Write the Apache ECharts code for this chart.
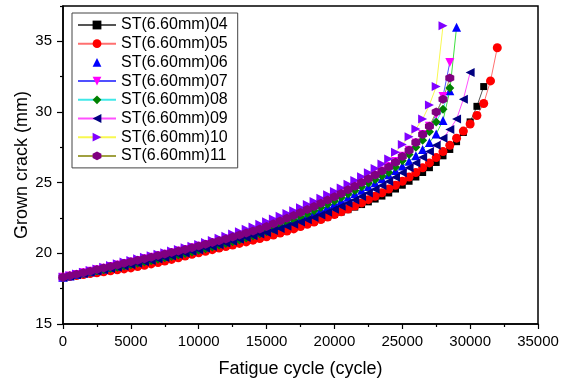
<!DOCTYPE html>
<html>
<head>
  <meta charset="utf-8">
  <title>Grown crack vs fatigue cycle</title>
  <script src="https://cdn.jsdelivr.net/npm/echarts/dist/echarts.min.js"></script>
  <style>
    html, body { margin: 0; padding: 0; background: #fff; }
    #chart { width: 572px; height: 379px; }
  </style>
</head>
<body>
  <div id="chart"></div>
  <script>
    // cycle count of each reading
    const cycles = [0, 500, 1000, 1500, 2000, 2500, 3000, 3500, 4000, 4500,
      5000, 5500, 6000, 6500, 7000, 7500, 8000, 8500, 9000, 9500,
      10000, 10500, 11000, 11500, 12000, 12500, 13000, 13500, 14000, 14500,
      15000, 15500, 16000, 16500, 17000, 17500, 18000, 18500, 19000, 19500,
      20000, 20500, 21000, 21500, 22000, 22500, 23000, 23500, 24000, 24500,
      25000, 25500, 26000, 26500, 27000, 27500, 28000, 28500, 29000, 29500,
      30000, 30500, 31000, 31500, 32000];

    // grown crack length (mm) per specimen
    const st04 = [18.30, 18.38, 18.46, 18.54, 18.62, 18.70, 18.78, 18.86, 18.94, 19.02,
      19.12, 19.22, 19.32, 19.42, 19.52, 19.62, 19.72, 19.82, 19.92, 20.02,
      20.12, 20.23, 20.34, 20.45, 20.56, 20.67, 20.79, 20.91, 21.03, 21.14,
      21.25, 21.38, 21.52, 21.66, 21.80, 21.95, 22.10, 22.26, 22.42, 22.58,
      22.75, 22.92, 23.09, 23.27, 23.45, 23.64, 23.84, 24.05, 24.27, 24.55,
      24.82, 25.10, 25.40, 25.72, 26.06, 26.43, 26.90, 27.35, 27.90, 28.55,
      29.30, 30.40, 31.80];
    const st05 = [18.30, 18.36, 18.43, 18.50, 18.57, 18.63, 18.70, 18.76, 18.83, 18.90,
      18.97, 19.06, 19.15, 19.25, 19.35, 19.46, 19.57, 19.69, 19.81, 19.93,
      20.04, 20.15, 20.26, 20.37, 20.48, 20.59, 20.70, 20.81, 20.93, 21.05,
      21.17, 21.30, 21.44, 21.58, 21.73, 21.89, 22.05, 22.22, 22.39, 22.57,
      22.75, 22.94, 23.14, 23.35, 23.57, 23.80, 24.04, 24.29, 24.55, 24.82,
      25.10, 25.40, 25.72, 26.05, 26.40, 26.78, 27.20, 27.65, 28.15, 28.65,
      29.15, 29.75, 30.60, 32.20, 34.55];
    const st06 = [18.30, 18.40, 18.50, 18.60, 18.70, 18.80, 18.90, 19.00, 19.10, 19.20,
      19.30, 19.40, 19.50, 19.60, 19.70, 19.80, 19.90, 20.00, 20.11, 20.22,
      20.33, 20.45, 20.57, 20.69, 20.82, 20.95, 21.08, 21.22, 21.36, 21.50,
      21.65, 21.81, 21.98, 22.15, 22.33, 22.51, 22.70, 22.90, 23.10, 23.31,
      23.52, 23.74, 23.97, 24.21, 24.46, 24.72, 24.99, 25.27, 25.56, 25.86,
      26.18, 26.52, 26.90, 27.35, 27.85, 28.45, 29.40, 31.50, 36.00];
    const st07 = [18.30, 18.40, 18.51, 18.62, 18.73, 18.84, 18.95, 19.06, 19.17, 19.28,
      19.39, 19.50, 19.61, 19.72, 19.83, 19.94, 20.05, 20.16, 20.27, 20.39,
      20.51, 20.63, 20.75, 20.88, 21.01, 21.14, 21.28, 21.42, 21.57, 21.72,
      21.88, 22.06, 22.25, 22.44, 22.64, 22.85, 23.06, 23.28, 23.50, 23.73,
      23.96, 24.20, 24.45, 24.71, 24.98, 25.25, 25.53, 25.82, 26.14, 26.50,
      26.87, 27.30, 27.80, 28.40, 29.00, 29.80, 31.10, 33.50];
    const st08 = [18.30, 18.39, 18.48, 18.57, 18.66, 18.75, 18.84, 18.93, 19.02, 19.11,
      19.20, 19.29, 19.38, 19.48, 19.58, 19.68, 19.78, 19.88, 19.99, 20.10,
      20.21, 20.33, 20.45, 20.57, 20.69, 20.82, 20.95, 21.08, 21.22, 21.36,
      21.53, 21.72, 21.93, 22.15, 22.36, 22.57, 22.79, 23.01, 23.24, 23.47,
      23.71, 23.95, 24.20, 24.45, 24.71, 24.97, 25.23, 25.47, 25.72, 26.10,
      26.55, 27.00, 27.50, 28.00, 28.60, 29.30, 30.20, 31.70];
    const st09 = [18.30, 18.39, 18.48, 18.57, 18.66, 18.75, 18.84, 18.93, 19.02, 19.11,
      19.20, 19.30, 19.40, 19.50, 19.60, 19.70, 19.81, 19.92, 20.03, 20.14,
      20.25, 20.37, 20.49, 20.61, 20.73, 20.86, 20.99, 21.12, 21.25, 21.36,
      21.48, 21.62, 21.76, 21.91, 22.06, 22.21, 22.37, 22.53, 22.72, 22.91,
      23.12, 23.33, 23.55, 23.78, 24.02, 24.27, 24.53, 24.80, 25.08, 25.38,
      25.70, 26.05, 26.40, 26.80, 27.20, 27.65, 28.15, 28.76, 29.50, 30.90,
      32.80];
    const st10 = [18.30, 18.42, 18.54, 18.66, 18.78, 18.90, 19.02, 19.14, 19.26, 19.38,
      19.50, 19.61, 19.72, 19.83, 19.94, 20.05, 20.16, 20.27, 20.39, 20.51,
      20.63, 20.77, 20.91, 21.06, 21.21, 21.37, 21.53, 21.70, 21.87, 22.05,
      22.24, 22.43, 22.62, 22.82, 23.02, 23.23, 23.45, 23.67, 23.90, 24.14,
      24.38, 24.63, 24.89, 25.15, 25.42, 25.70, 26.00, 26.32, 26.68, 27.15,
      27.70, 28.24, 28.80, 29.50, 30.50, 31.80, 36.10];
    const st11 = [18.30, 18.41, 18.52, 18.63, 18.74, 18.85, 18.96, 19.07, 19.18, 19.29,
      19.40, 19.51, 19.62, 19.73, 19.84, 19.95, 20.06, 20.17, 20.28, 20.40,
      20.52, 20.64, 20.76, 20.89, 21.02, 21.15, 21.29, 21.43, 21.58, 21.73,
      21.90, 22.09, 22.28, 22.48, 22.68, 22.89, 23.10, 23.32, 23.54, 23.77,
      24.00, 24.24, 24.49, 24.75, 25.02, 25.28, 25.55, 25.82, 26.10, 26.45,
      26.85, 27.30, 27.85, 28.40, 29.00, 30.00, 30.90, 32.40];

    const crack = [st04, st05, st06, st07, st08, st09, st10, st11];
    const seriesNames = ['ST(6.60mm)04', 'ST(6.60mm)05', 'ST(6.60mm)06', 'ST(6.60mm)07',
      'ST(6.60mm)08', 'ST(6.60mm)09', 'ST(6.60mm)10', 'ST(6.60mm)11'];
    const markerColors = ['#000000', '#ff0000', '#0000ff', '#ff00ff', '#008000', '#000080', '#8000ff', '#800080'];
    const lineColors = ['#555555', '#ff7070', '#40e040', '#5050ff', '#40e8e8', '#ff50ff', '#f8f850', '#a0a040'];
    const markers = ['rect', 'circle', 'triangle',
      'path://M0,0L10,0L5,9Z',
      'diamond',
      'path://M9,0L9,10L0,5Z',
      'path://M0,0L0,10L9,5Z',
      'path://M5,0L9.33,2.5L9.33,7.5L5,10L0.67,7.5L0.67,2.5Z'];
    const markerSizes = [7, 9, 9, 9, 9, 9, 9, 9];
    const yMajor = [15, 20, 25, 30, 35];
    const yMinor = [17.5, 22.5, 27.5, 32.5, 37.5];

    const font = 'Liberation Sans, Arial, sans-serif';
    const chart = echarts.init(document.getElementById('chart'));

    function pairs(ys) {
      return ys.map((y, i) => [cycles[i], y]);
    }

    const option = {
      animation: false,
      grid: {
        left: 63, right: 34, top: 6, bottom: 55, outerBoundsMode: 'none',
        show: true, borderColor: '#000', borderWidth: 1.5
      },
      legend: {
        orient: 'vertical', left: 72, top: 13,
        padding: [4, 10, 4, 5],
        itemWidth: 38, itemHeight: 11, itemGap: 2.7,
        borderColor: '#444', borderWidth: 1, backgroundColor: '#fff',
        textStyle: { fontFamily: font, fontSize: 16, color: '#000', lineHeight: 16 },
        data: seriesNames.map((n, i) => i === 2 ? { name: n, lineStyle: { opacity: 0 } } : n)
      },
      xAxis: {
        type: 'value', min: 0, max: 35000, interval: 5000,
        name: 'Fatigue cycle (cycle)', nameLocation: 'middle', nameGap: 36,
        nameTextStyle: { fontFamily: font, fontSize: 18, color: '#000' },
        axisLine: { lineStyle: { color: '#000', width: 1.5 } },
        axisTick: { length: 5, lineStyle: { color: '#000', width: 1.2 } },
        minorTick: { show: true, splitNumber: 2, length: 3, lineStyle: { color: '#000', width: 1.2 } },
        splitLine: { show: false },
        axisLabel: { fontFamily: font, fontSize: 15, color: '#000', margin: 10, formatter: v => String(v) }
      },
      yAxis: [{
        type: 'value', min: 15, max: 37.5, interval: 5,
        name: 'Grown crack (mm)', nameLocation: 'middle', nameGap: 32, nameMoveOverlap: false,
        nameTextStyle: { fontFamily: font, fontSize: 18, color: '#000' },
        axisLine: { show: true, lineStyle: { color: '#000', width: 1.5 } },
        axisTick: { show: true, length: 6, customValues: yMajor, lineStyle: { color: '#000', width: 1.2 } },
        splitLine: { show: false },
        axisLabel: { fontFamily: font, fontSize: 15, color: '#000', margin: 11, customValues: yMajor }
      }, {
        type: 'value', min: 15, max: 37.5, interval: 2.5, position: 'left',
        axisLine: { show: false },
        axisTick: { show: true, length: 3, customValues: yMinor, lineStyle: { color: '#000', width: 1.2 } },
        splitLine: { show: false },
        axisLabel: { show: false }
      }],
      series: crack.map((ys, i) => ({
        name: seriesNames[i], type: 'line', data: pairs(ys),
        symbol: markers[i], symbolSize: markerSizes[i], showSymbol: true,
        itemStyle: { color: markerColors[i], borderWidth: 0 },
        lineStyle: { color: lineColors[i], width: 1 },
        emphasis: { disabled: true }
      }))
    };

    chart.setOption(option);
  </script>
</body>
</html>
